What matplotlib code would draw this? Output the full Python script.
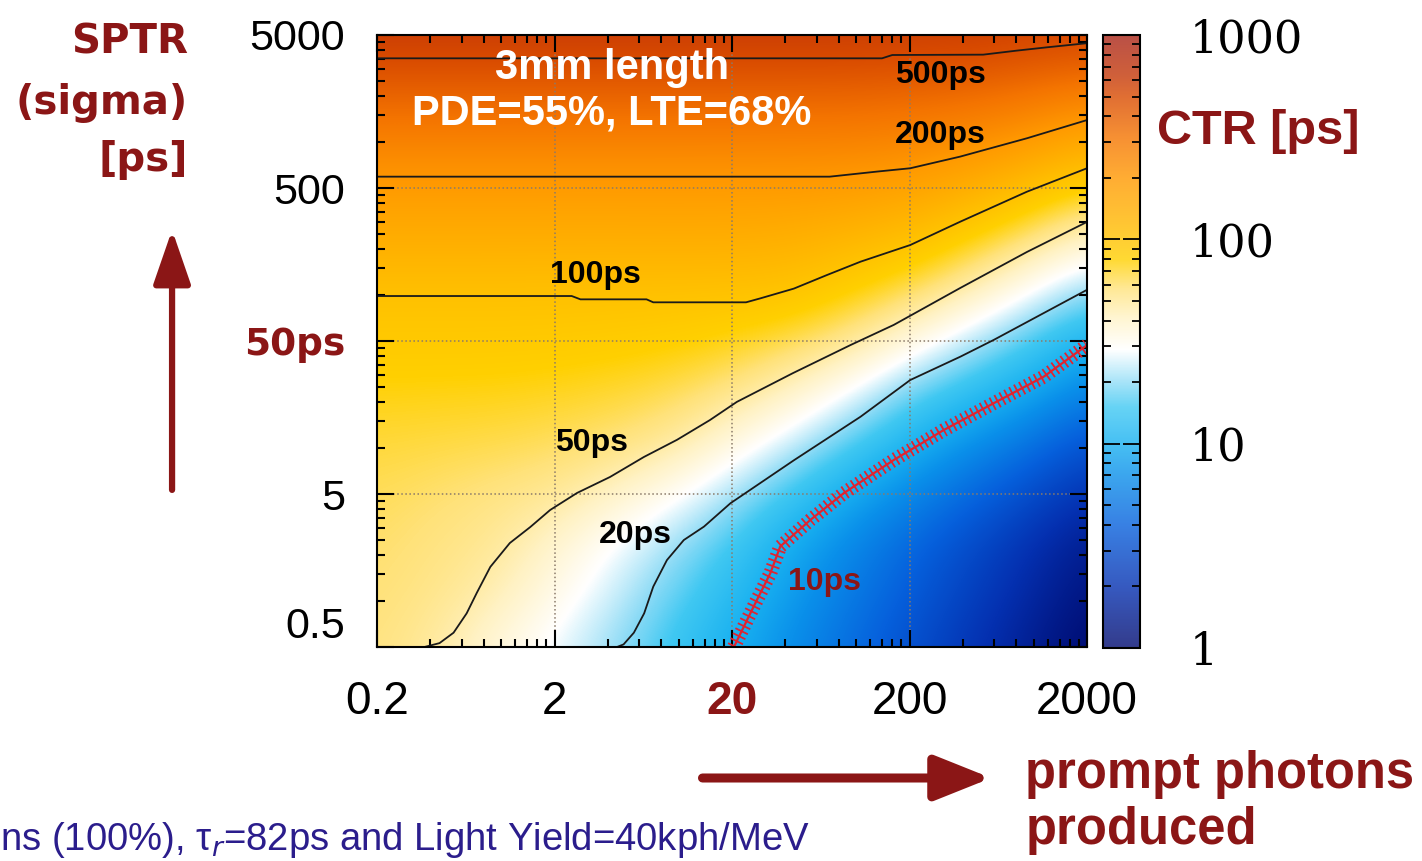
import numpy as np
import matplotlib
matplotlib.use("Agg")
import matplotlib.pyplot as plt
from matplotlib.colors import LinearSegmentedColormap, LogNorm
from matplotlib.cm import ScalarMappable
from matplotlib.ticker import NullFormatter

plt.rcParams['font.family'] = ['Liberation Sans', 'DejaVu Sans']

# grid nodes (prompt photons, SPTR sigma in ps)
photons = [0.2, 0.43, 0.93, 2, 4.3, 9.3, 20, 43, 93, 200, 430, 930, 2000]
sptr = [0.5, 1.08, 2.33, 5, 10.8, 23.3, 50, 108, 233, 500, 1080, 2330, 5000]

# CTR [ps], one row per SPTR value (low to high)
ctr_ps = [
    [56, 48.5, 36, 27, 20.5, 14.3, 10.0, 6.8, 4.65, 3.16, 2.15, 1.47, 1.0],
    [58, 53, 45, 33, 24.3, 17.3, 11.9, 8.1, 5.5, 3.77, 2.56, 1.75, 1.19],
    [60, 55.4, 51, 39, 28.5, 21, 15, 9.5, 6.44, 4.4, 3.0, 2.04, 1.39],
    [63, 59, 55, 51.3, 40.7, 31, 21.5, 14.6, 9.5, 6.5, 4.5, 3.05, 2.05],
    [68, 66.5, 65, 62, 57.5, 50, 35.5, 24.4, 16.3, 10.8, 7.3, 5.2, 3.3],
    [76, 75.5, 75, 73, 69.5, 64, 54, 41.5, 28.3, 18, 13, 9.3, 6.1],
    [88, 88, 88, 87, 85, 82, 75, 64.5, 52, 35.5, 23.3, 16, 10.4],
    [103, 103, 103, 102.5, 102, 101, 101, 99.5, 81, 64, 46, 30.3, 20],
    [139, 139, 139, 138.5, 138, 140, 139, 135, 121, 105, 79, 57.5, 39.5],
    [187, 187, 187, 187, 187, 187, 186.5, 186.5, 181, 168, 139, 105, 77.5],
    [272, 272, 272, 272, 272, 272, 271, 270, 269, 258, 235, 202, 157],
    [404, 404, 404, 404, 404, 404, 404, 403, 401, 390, 376, 341, 301],
    [599, 599, 599, 599, 599, 599, 599, 599, 599, 585, 583, 555, 534],
]

# iso-CTR lines
c500_x = [0.2, 140, 160, 520, 800, 1180, 2000]
c500_y = [3520, 3520, 3700, 3720, 3950, 4150, 4420]
c200_x = [0.2, 71, 131, 202, 386, 918, 2000]
c200_y = [593, 593, 640, 673, 802, 1057, 1390]
c100_x = [0.2, 2.5, 2.8, 6.6, 7.2, 24, 28.9, 44.6, 68.6, 106, 202, 386, 918, 2000]
c100_y = [98.4, 98.4, 93.6, 93.6, 89.5, 89.5, 95, 110, 135, 165, 212, 301, 473, 673]
c50_x = [0.37, 0.45, 0.54, 0.64, 0.73, 0.87, 1.12, 1.46, 1.89, 2.68, 4.11, 6.38,
         9.8, 15.0, 21.3, 44, 92.9, 163, 386, 918, 2000]
c50_y = [0.5, 0.53, 0.62, 0.83, 1.13, 1.67, 2.39, 3.04, 3.93, 5.08, 6.46, 8.73,
         11.3, 15.2, 20.0, 30.8, 47, 63.7, 111, 191, 300]
c20_x = [4.5, 4.9, 5.6, 6.4, 7.2, 8.6, 10.7, 13.9, 19.6, 44.6, 106, 202, 387, 596, 2000]
c20_y = [0.5, 0.52, 0.62, 0.83, 1.24, 1.85, 2.50, 3.06, 4.35, 8.3, 16, 27.8, 39.5, 50.8, 108]
c10_x = [20.5, 26.5, 32.9, 37.4, 55.2, 85, 163, 312, 596, 1140, 2000]
c10_y = [0.5, 0.92, 1.52, 2.27, 3.38, 5.05, 8.34, 13.1, 19.6, 29.2, 47]

dark_red = '#8b1616'

stops = [(0.0, '#000a6e'), (0.3, '#0430b0'), (0.6, '#0660dc'), (0.85, '#0a90ea'),
         (1.0, '#18b0f0'), (1.18, '#40c8f2'), (1.3, '#90dcf6'), (1.46, '#ffffff'),
         (1.62, '#fff2c4'), (1.76, '#ffe27a'), (1.9, '#ffd000'), (2.0, '#ffc200'),
         (2.3, '#ff9800'), (2.5, '#f47400'), (2.7, '#d84a00'), (2.8, '#c43808'),
         (3.0, '#a82418')]
cmap = LinearSegmentedColormap.from_list('ctr', [(v / 3.0, c) for v, c in stops], N=1024)
faded = cmap(np.linspace(0, 1, 1024)) * 0.8 + 0.2
faded[:, 3] = 1.0
cmap_bar = LinearSegmentedColormap.from_list('ctr_bar', faded, N=1024)

fig = plt.figure(figsize=(14.22, 8.61), dpi=100)
pos = [377 / 1422, 1 - 647 / 861, 710 / 1422, 612 / 861]

# colour map drawn in log10 units underneath the log axes
lx = np.log10(photons)
ly = np.log10(sptr)
dx = (lx[-1] - lx[0]) / (len(lx) - 1)
dy = (ly[-1] - ly[0]) / (len(ly) - 1)
ax_bg = fig.add_axes(pos)
ax_bg.imshow(np.log10(np.array(ctr_ps)), origin='lower', cmap=cmap, vmin=0, vmax=3,
             interpolation='bicubic', interpolation_stage='data', aspect='auto',
             extent=[lx[0] - dx / 2, lx[-1] + dx / 2, ly[0] - dy / 2, ly[-1] + dy / 2])
ax_bg.set_xlim(lx[0], lx[-1])
ax_bg.set_ylim(ly[0], ly[-1])
ax_bg.set_axis_off()

ax = fig.add_axes(pos, facecolor='none')
ax.set_xscale('log')
ax.set_yscale('log')
ax.set_xlim(0.2, 2000)
ax.set_ylim(0.5, 5000)

for xs, ys in [(c500_x, c500_y), (c200_x, c200_y), (c100_x, c100_y),
               (c50_x, c50_y), (c20_x, c20_y)]:
    ax.plot(xs, ys, color='#1a1a1a', lw=1.3)
# hatched red 10 ps line
ax.plot(c10_x, c10_y, color='#e02430', lw=10, dashes=(0.13, 0.27))
ax.plot(c10_x, c10_y, color='#e02430', lw=1.6)

lab = dict(fontsize=23, fontweight='bold', ha='center', va='center')
ax.text(297, 2740, '500ps', **lab)
ax.text(297, 1110, '200ps', **lab)
ax.text(3.38, 135, '100ps', **lab)
ax.text(3.25, 10.8, '50ps', **lab)
ax.text(5.69, 2.70, '20ps', **lab)
ax.text(66.8, 1.33, '10ps', color=dark_red, **lab)

ax.text(0.331, 0.946, '3mm length', transform=ax.transAxes, color='white',
        fontsize=30, fontweight='bold', ha='center', va='center')
ax.text(0.331, 0.872, 'PDE=55%, LTE=68%', transform=ax.transAxes, color='white',
        fontsize=30, fontweight='bold', ha='center', va='center')

ax.set_xticks([0.2, 2, 20, 200, 2000])
ax.set_xticks([k * 0.2 * 10 ** n for n in range(4) for k in range(2, 10)], minor=True)
ax.set_yticks([0.5, 5, 50, 500, 5000])
ax.set_yticks([k * 0.5 * 10 ** n for n in range(4) for k in range(2, 10)], minor=True)
ax.xaxis.set_minor_formatter(NullFormatter())
ax.yaxis.set_minor_formatter(NullFormatter())
xl = ax.set_xticklabels(['0.2', '2', '20', '200', '2000'], fontsize=33)
yl = ax.set_yticklabels(['0.5', '5', '50ps', '500', '5000'], fontsize=31)
xl[2].set_color(dark_red)
xl[2].set_fontweight('bold')
yl[2].set_color(dark_red)
yl[2].set_fontweight('bold')
yl[2].set_family('DejaVu Sans')
yl[2].set_fontsize(27)
yl[0].set_verticalalignment('bottom')
ax.tick_params(which='both', direction='in', top=True, right=True, width=1.5)
ax.tick_params(which='major', length=12)
ax.tick_params(which='minor', length=6)
ax.tick_params(axis='x', pad=24)
ax.tick_params(axis='y', pad=23)
ax.grid(which='major', ls=':', color='#8a7a6a', lw=1.1)
for s in ax.spines.values():
    s.set_linewidth(1.5)

# colour bar
cax = fig.add_axes([1103 / 1422, 1 - 648 / 861, 37 / 1422, 613 / 861])
cb = fig.colorbar(ScalarMappable(norm=LogNorm(1, 1000), cmap=cmap_bar), cax=cax)
cb.set_ticks([1, 10, 100, 1000])
cb.set_ticklabels(['1', '10', '100', '1000'])
cax.tick_params(which='both', direction='in', left=True, right=True, width=1.3)
cax.tick_params(which='major', length=12, pad=36, labelsize=32)
cax.tick_params(which='minor', length=6)
for t in cax.get_yticklabels():
    t.set_family('DejaVu Serif')
cb.outline.set_linewidth(1.5)

fig.text(0.8847, 0.8467, 'CTR [ps]', color=dark_red, fontsize=35, fontweight='bold',
         ha='center', va='center')

# left title and arrow
for txt, yy in [('SPTR', 0.951), ('(sigma)', 0.880), ('[ps]', 0.814)]:
    fig.text(0.1322, yy, txt, color=dark_red, fontsize=29, fontweight='bold',
             family='DejaVu Sans', ha='right', va='center')
ax.annotate('', xy=(0.121, 0.733), xytext=(0.121, 0.431), xycoords='figure fraction',
            textcoords='figure fraction', annotation_clip=False,
            arrowprops=dict(arrowstyle='-|>,head_length=1.1,head_width=0.38',
                            mutation_scale=30, lw=4.5, color=dark_red,
                            shrinkA=0, shrinkB=0))
ax.annotate('', xy=(0.697, 0.0964), xytext=(0.494, 0.0964), xycoords='figure fraction',
            textcoords='figure fraction', annotation_clip=False,
            arrowprops=dict(arrowstyle='-|>,head_length=1.0,head_width=0.4',
                            mutation_scale=34, lw=6.5, color=dark_red,
                            shrinkA=0, shrinkB=0))
fig.text(0.721, 0.100, 'prompt photons', color=dark_red, fontsize=36.5, fontweight='bold',
         ha='left', va='center')
fig.text(0.721, 0.035, 'produced', color=dark_red, fontsize=36.5, fontweight='bold',
         ha='left', va='center')

fig.text(0.0, 0.013, 'ns (100%), τ$_r$=82ps and Light Yield=40kph/MeV', color='#2b1d8c',
         fontsize=27.5, ha='left', va='baseline')

fig.savefig('out.png', dpi=100)
